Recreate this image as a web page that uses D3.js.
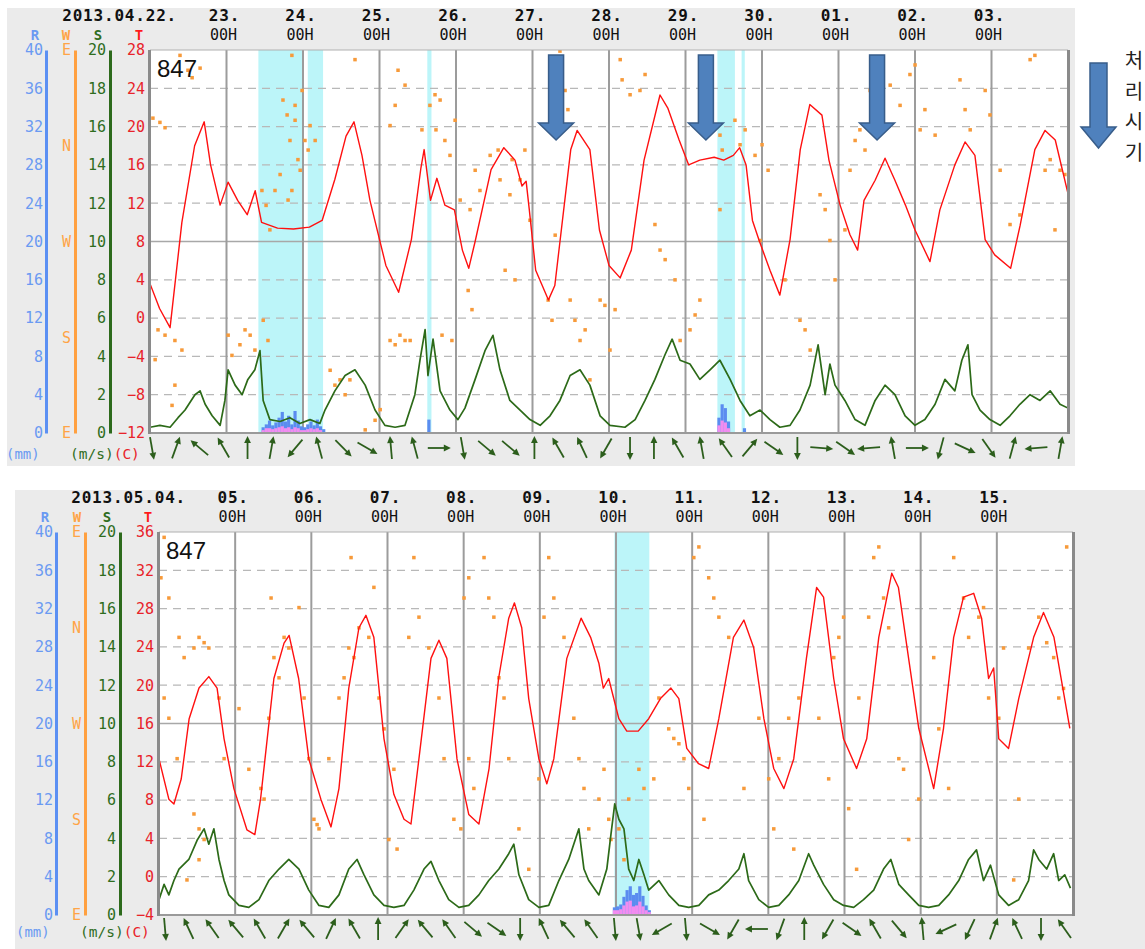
<!DOCTYPE html>
<html><head><meta charset="utf-8">
<script src="https://cdn.jsdelivr.net/npm/d3@7"></script>
<style>body{margin:0;background:#fff}svg{display:block}</style>
</head><body><svg id="c" width="1145" height="949"></svg>
<script>
// ---------------- data ----------------
const dayLabelsTop = ["2013.04.22.","23.","24.","25.","26.","27.","28.","29.","30.","01.","02.","03."];
const dayLabelsBottom = ["2013.05.04.","05.","06.","07.","08.","09.","10.","11.","12.","13.","14.","15."];
const hourLabel = "00H";
const axisLetters = ["R","W","S","T"];
const rainTicks = [0,4,8,12,16,20,24,28,32,36,40];
const windTicks = [0,2,4,6,8,10,12,14,16,18,20];
const dirLabels = ["E","N","W","S","E"];
const dirValues = [450,360,270,180,90];
const tempTicksTop = [-12,-8,-4,0,4,8,12,16,20,24,28];
const tempTicksBottom = [-4,0,4,8,12,16,20,24,28,32,36];
const stationId = "847";
const noteText = ["처","리","시","기"];
const markerHoursTop = [127.4,174.4,228.1];

// temperature [hour from panel start, °C]
const tempTop = [[0,3.6],[3,1],[6.3,-1],[10,10],[14,18],[17,20.5],[19,16],[22,11.8],[24.5,14.2],[27.5,12.3],[30.5,10.8],[33,13.3],[35,10],[40,9.4],[45,9.3],[50,9.5],[54,10.2],[58,14.5],[61.5,19],[64,20.5],[66.5,17],[69,12.3],[74,5.5],[78,2.7],[82,8.2],[85,15.7],[86,17.6],[88,12.3],[90,14.6],[92.5,11.8],[95.5,11.3],[98,7.1],[100,5.2],[102,8],[107,15.5],[111,17.8],[114.5,16.5],[116.7,13.8],[118,14.3],[119,11.3],[121,5],[125,1.9],[127,3.4],[132,17.6],[134,19.6],[138,17.6],[141,9.2],[144,5.5],[147.5,4.2],[151,7.1],[155,16.5],[160,23.3],[162.5,21.9],[166,18.6],[169,16],[172.5,16.5],[177,16.8],[180,16.5],[183,17],[185,17.8],[187,16],[189,10.2],[191,8.2],[194.5,5],[197.6,2.4],[200.8,8.2],[204,17.6],[207,22.3],[210.8,21.2],[213,16.5],[216.5,11.8],[219.6,8.7],[222,7.1],[224,12.3],[227.5,14.4],[230.6,16.7],[233.7,14.4],[237,11.8],[240,9.2],[244.7,5.9],[247.8,11.3],[252.5,16],[255.7,18.4],[258.8,17],[262,8.2],[265,6.6],[270,5.2],[273,9.7],[277.6,17.6],[280.8,19.6],[284,18.6],[288,13]];
const tempBottom = [[0,12.3],[3.1,8.1],[4.7,7.6],[7,10.2],[9.5,16.5],[12.6,19.7],[15.7,20.9],[18.3,19.7],[20.5,14.4],[23.6,9.2],[27.7,4.9],[30.2,4.4],[32,8.1],[36.2,20.7],[39.4,24.4],[41,25.2],[44,20.7],[47.2,12.3],[51,8.1],[54.2,5.2],[56.7,9.2],[59.8,19.7],[63,26],[65.2,27.3],[67.7,25],[70.9,14.4],[74,8.6],[77.2,6],[79.4,5.5],[81.9,12.3],[85.7,22.8],[88.2,24.7],[90.7,22.8],[93.9,12.3],[97.6,6.5],[100.8,5.5],[104,11.3],[107,20.7],[110.2,27],[112,28.6],[114.3,26],[116.5,18.6],[119.7,12.3],[122.2,9.7],[124.4,12.3],[128.5,22.8],[133,27],[136,25],[138.6,22.3],[140,19.7],[141.7,20.7],[144.9,16.5],[147.4,15.2],[151,15.2],[154.3,16.5],[158,18.6],[161.3,19.7],[163.8,18.6],[166.3,13.4],[170,11.8],[173.2,11.3],[176.4,16.5],[181,25],[184.3,26.8],[187.4,23.9],[190.6,16.5],[193.7,11.3],[196.9,9.2],[200,12.3],[204,22.8],[207.2,30.2],[209.4,29.2],[212.6,20.7],[215.7,14.4],[219.8,11.3],[223,14.4],[226.8,25],[230.9,31.7],[233,30.2],[236.2,22.8],[239.4,15.5],[244.1,9.2],[247.2,15.5],[250.4,25],[253.5,29.2],[256.7,29.6],[259.2,27],[261.4,20.7],[263,21.8],[264.6,14.4],[267.7,13.4],[270.9,18.6],[275.6,25],[278.7,27.6],[282,25],[287,15.5]];

// wind speed [hour, m/s]
const windTop = [[0,0.3],[3.1,0.4],[6.3,0.3],[8.8,0.8],[11,1.2],[14.1,2],[15.7,2.2],[17.3,1.5],[19.5,0.9],[22,0.4],[23.5,1.7],[24.5,3.3],[26.7,2.5],[28.9,2],[30.7,2.8],[32.9,3.3],[34.5,4.3],[35.5,1.7],[37.6,0.7],[40.8,0.6],[43.9,0.8],[47,0.5],[50.2,0.7],[53.3,0.5],[54.9,1.2],[58,2.2],[61.2,3],[64.3,3.3],[67.5,2.5],[70.6,1.2],[73.7,0.4],[76.9,0.3],[80,0.4],[83.1,2],[84.7,3.8],[86.3,5.4],[87.2,3],[88.8,4.9],[91,2.2],[94.1,1.2],[96.6,0.7],[98.8,1.3],[102,2.8],[105.1,4.3],[107.6,5.1],[109.8,3.3],[112.9,1.7],[116.1,1.2],[119.2,0.7],[122.4,0.4],[125.5,0.9],[128.6,1.7],[131.8,3],[134.9,3.3],[138,2.5],[141.2,0.9],[144.3,0.4],[149,0.3],[152.2,0.7],[155.3,1.7],[158.4,2.8],[161.6,4.1],[163.8,4.9],[166.3,3.8],[169.4,3.6],[172.5,2.8],[175.7,3.3],[178.8,3.8],[182,2.8],[185.1,1.7],[188.2,0.9],[191.4,1.2],[194.5,0.7],[197.6,0.3],[200.8,0.4],[203.9,1.2],[207.1,2.5],[209.6,4.6],[211.8,2],[213.3,3.6],[214.9,2.5],[218,1.7],[221.2,0.7],[224.3,0.4],[227.5,1.7],[230.6,2.5],[233.7,2],[236.9,0.9],[240,0.4],[243.1,0.7],[246.3,1.5],[249.4,2.8],[252.5,2.2],[254.7,3.8],[256.6,4.6],[257.9,2],[260.4,1.2],[263.5,0.7],[266.7,0.4],[269.8,0.9],[272.9,1.5],[276.1,2],[279.2,1.7],[282.4,2.2],[285.5,1.5],[288,1.3]];
const windBottom = [[0,0.8],[1.6,1.6],[3.1,1.05],[4.7,1.8],[6.3,2.4],[9.4,2.9],[12,3.9],[14.2,4.5],[15.7,3.7],[17.3,4.5],[18.9,2.9],[20.5,1.8],[22,1.05],[25.2,0.5],[28.3,0.4],[31.5,0.8],[34.6,1.8],[37.8,2.4],[40.9,2.9],[44.1,2.4],[47.2,1.3],[50.4,0.5],[53.5,0.4],[56.7,1.05],[59.8,2.4],[62.4,2.9],[64.6,2.1],[67.7,1.05],[70.9,0.5],[74,0.4],[77.2,0.5],[80.3,1.3],[83.5,2.4],[85.7,2.8],[88.2,1.8],[91.3,0.8],[94.5,0.4],[97.6,0.5],[100.8,1.05],[103.9,1.8],[107.1,2.4],[110.2,3.2],[111.8,3.7],[113.4,2.1],[116.5,0.8],[119.7,0.4],[122.8,0.5],[126,1.8],[129.1,2.9],[132.3,4.5],[133.9,2.4],[135.4,1.8],[138.6,1.05],[141.1,2.4],[142.4,4.2],[143.6,5.8],[144.9,5],[146.5,4.5],[148,2.4],[149.6,1.8],[151.2,2.9],[152.8,2.1],[154.3,1.3],[157.5,1.8],[160.6,1.05],[163.8,0.5],[166.9,0.4],[170.1,0.5],[173.2,1.05],[176.4,1.3],[179.5,1.8],[182.7,2.4],[184.3,3.2],[185.8,1.8],[189,0.8],[192.1,0.4],[195.3,0.5],[198.4,1.05],[201.6,1.8],[204.7,3.2],[206.3,2.6],[209.4,1.6],[212.6,0.8],[215.7,0.5],[218.9,0.4],[222,0.8],[225.2,1.3],[228.3,2.4],[230.6,2.9],[233.1,1.6],[236.2,1.05],[239.4,0.5],[242.5,0.4],[245.7,0.5],[248.8,1.05],[252,1.8],[255.1,2.9],[257.6,3.4],[259.8,1.8],[262,2.6],[264.6,1.05],[267.7,0.5],[270.9,0.8],[274,1.8],[275.6,3.4],[277.2,2.9],[279.7,2.4],[281.9,3.2],[283.5,1.8],[285.4,2.1],[287.2,1.4]];

// wind direction dots [hour, compass degrees]
const dirTop = [[0.9,26],[3.1,22],[4.7,17],[2.5,187],[4.7,182],[7.8,177],[10,168],[1.6,159],[7.8,135],[6.9,116],[9.4,85],[11.9,71],[13.2,64],[15.7,73],[25.7,163],[28.2,173],[29.8,187],[31.4,182],[32.9,168],[24.5,182],[35.5,196],[37,177],[41.7,43],[43,29],[40.8,333],[39.2,318],[43.9,5],[45.5,24],[46.4,347],[47.1,337],[48.6,5],[49.6,356],[44.5,318],[43.3,309],[45.5,38],[47.7,52],[50.2,19],[35.1,318],[36.4,304],[37.6,281],[44.5,85],[51.8,5],[56.5,149],[58,135],[59.6,140],[61.2,126],[62.7,140],[67.5,93],[70.6,102],[72.2,112],[64.3,81],[75.3,177],[76.9,173],[78.4,182],[80,177],[81.6,177],[76.9,38],[77.8,71],[75.3,19],[80,57],[85.3,15],[87.8,38],[89.4,48],[91,43],[89.7,15],[92.5,5],[94.1,351],[95.7,24],[97.3,309],[91.6,182],[94.7,177],[100.4,300],[102,337],[103.5,318],[106.7,351],[109.2,356],[109.8,328],[112.9,314],[113.6,347],[116.1,328],[117.6,356],[119.2,290],[99.8,224],[101,206],[114.5,234],[111.4,243],[128.6,89],[130.2,52],[131.1,34],[127.1,276],[124.9,215],[126.1,196],[131.8,215],[133.3,196],[134.9,177],[136.5,187],[138,140],[141.2,215],[142.7,210],[145.9,206],[144.3,168],[147.5,81],[148.1,62],[150.6,48],[153.7,52],[155.3,67],[158.4,286],[160,262],[161.6,253],[164.7,234],[169.4,187],[171,201],[172.5,215],[166.3,177],[175.7,81],[176.3,71],[178.8,10],[179.5,356],[183.5,24],[185.1,1],[186.7,15],[189.8,351],[192,1],[193.9,337],[178.8,300],[191.4,271],[199.2,234],[203.9,196],[205.5,187],[207.1,168],[210.2,314],[211.8,300],[213.3,271],[214.9,234],[218,281],[219.6,337],[221.2,5],[222.7,15],[224.3,356],[229,15],[225.9,52],[232.2,57],[235.3,38],[238.4,67],[240,76],[241.6,15],[243.1,34],[246.3,10],[254.1,62],[255.7,34],[257.3,15],[262,52],[263.5,29],[266.7,337],[269.8,286],[272.9,295],[276.1,81],[277.6,85],[280.8,337],[282.4,347],[285.5,337],[287,333],[283.9,281]];
const dirBottom = [[0.6,47],[1.6,85],[3.1,28],[6.3,351],[7.9,332],[11,341],[12.6,351],[14.2,346],[15.7,341],[1.6,294],[3.1,275],[5.7,237],[11,185],[12.6,171],[14.2,161],[8.8,123],[12.6,142],[18.9,294],[20.5,237],[25.2,284],[28.3,227],[32.1,209],[33.1,199],[34.6,275],[35.3,28],[36.2,332],[37.8,313],[39.4,351],[40.9,341],[44.1,19],[45.7,294],[47.2,237],[48.8,180],[49.8,175],[50.4,171],[53.5,237],[56.7,294],[58.3,313],[59.8,341],[60.5,66],[61.4,332],[63,0],[66.1,351],[67.7,38],[69.3,294],[70.9,265],[74,227],[72.4,161],[75,152],[78.7,351],[80.3,66],[81.9,10],[85,341],[88.2,294],[89.8,237],[92.9,180],[95.1,171],[97.6,237],[99.2,209],[96.1,28],[97.6,47],[102.4,66],[103.9,28],[105.5,10],[107.1,313],[108.7,294],[110.2,237],[113.4,171],[116.5,133],[119.7,218],[121.3,10],[122.8,66],[124.4,28],[127.6,351],[130.7,275],[132.3,237],[133.9,209],[135.4,171],[138.6,199],[140.2,227],[141.7,180],[142.4,161],[144.9,171],[146.5,142],[148,199],[151.2,227],[152.8,209],[155.9,218],[157.5,294],[160.6,265],[162.2,256],[163.8,251],[165.4,237],[166.9,209],[168.5,66],[170.1,76],[173.2,47],[174.8,28],[176.4,10],[171.7,180],[179.5,351],[184.3,209],[189,275],[192.1,218],[193.7,171],[195.3,237],[198.4,275],[201.6,294],[200,152],[207.9,275],[211,218],[212.6,332],[214.2,351],[215.7,10],[217.3,190],[219.8,133],[220.5,294],[223.6,10],[225.2,66],[226.8,76],[228.3,28],[229.9,0],[233.1,237],[234.6,227],[236.2,161],[239.4,199],[244.1,332],[245.7,265],[248.8,209],[250.4,66],[253.5,28],[255.1,351],[258.3,10],[259.8,19],[261.4,294],[264.6,275],[266.1,341],[269.3,123],[270.9,199],[274,341],[277.2,10],[279.7,346],[281.9,332],[283.5,294],[285,303],[286,76]];

// wind arrows: pointing angle (deg clockwise from up), one every ~7.5 h
const arrowsTop = [170,20,310,330,0,10,220,345,135,120,355,345,90,170,130,130,0,330,335,210,180,0,330,350,325,40,125,180,95,125,265,350,90,195,115,145,15,265,10];
const arrowsBottom = [175,335,325,320,330,30,320,25,330,0,35,320,325,130,125,180,335,320,325,175,170,240,175,120,210,270,200,0,210,125,330,140,355,245,205,20,335,180,325];

// rain [hour, mm]
const rainBlueTop = [[35,0.6],[36,0.9],[37,1.3],[38,0.8],[39,1.1],[40,1.6],[41,2.2],[42,1.2],[43,1.8],[44,0.9],[45,2.3],[46,1.3],[47,0.7],[48,0.6],[49,0.9],[50,1.2],[51,0.8],[52,1.4],[53,0.7],[54,0.4],[87,1.4],[178,1.6],[179,3.0],[180,2.6],[181,1.2],[186,0.5]];
const rainPinkTop = [[35,0.3],[36,0.5],[37,0.5],[38,0.4],[39,0.5],[40,0.6],[41,0.7],[42,0.5],[43,0.6],[44,0.4],[45,0.6],[46,0.5],[47,0.3],[48,0.3],[49,0.4],[50,0.5],[51,0.4],[52,0.5],[53,0.3],[178,0.8],[179,1.3],[180,1.1],[181,0.5]];
const rainBlueBottom = [[143,0.8],[144,0.9],[145,1.1],[146,1.9],[147,2.6],[148,3.0],[149,2.1],[150,2.3],[151,3.0],[152,2.0],[153,1.0],[154,0.5]];
const rainPinkBottom = [[143,0.5],[144,0.5],[145,0.6],[146,1.0],[147,1.4],[148,1.5],[149,0.9],[150,1.0],[151,1.4],[152,0.9],[153,0.5],[154,0.3]];
// rain periods [start hour, end hour]
const rainSpansTop = [[34,48.3],[49.5,54.3],[87,88.3],[178,183.5],[185.6,186.6]];
const rainSpansBottom = [[143.5,154.5]];

// ---------------- drawing ----------------
const svg = d3.select("#c");
svg.append("rect").attr("width",1145).attr("height",949).attr("fill","#fff");
const MONO = "'DejaVu Sans Mono', monospace";
const COL = {R:"#6a9af2", Rl:"#5b90f3", W:"#ffa446", Wl:"#ffa040", S:"#2f6d1e", Sl:"#2d6a1c", T:"#e8232a"};

function drawPanel(c, d) {
  const g = svg.append("g");
  g.append("rect").attr("x",c.gx).attr("y",c.gy).attr("width",c.gw).attr("height",c.gh).attr("fill","#ebebeb");
  const x = d3.scaleLinear().domain([0,288]).range([c.x0,c.x1]);
  const yT = d3.scaleLinear().domain(c.tDomain).range([c.y1,c.y0]);
  const yR = d3.scaleLinear().domain([0,40]).range([c.y1,c.y0]);
  const yS = d3.scaleLinear().domain([0,20]).range([c.y1,c.y0]);
  const yW = d3.scaleLinear().domain([90,450]).range([c.y1,c.y0]);
  const W = c.x1-c.x0, H = c.y1-c.y0;
  g.append("clipPath").attr("id","clip"+c.id).append("rect").attr("x",c.x0).attr("y",c.y0).attr("width",W).attr("height",H);
  g.append("rect").attr("x",c.x0).attr("y",c.y0).attr("width",W).attr("height",H).attr("fill","#fff");
  const p = g.append("g").attr("clip-path",`url(#clip${c.id})`);
  p.selectAll("rect.span").data(d.spans).join("rect").attr("class","span")
    .attr("x",s=>x(s[0])).attr("width",s=>x(s[1])-x(s[0])).attr("y",c.y0).attr("height",H).attr("fill","#bcf5f9");
  const mid = (c.tDomain[0]+c.tDomain[1])/2;
  p.selectAll("line.hg").data(d.tTicks.filter(t=>t>c.tDomain[0]&&t<c.tDomain[1])).join("line").attr("class","hg")
    .attr("x1",c.x0).attr("x2",c.x1).attr("y1",t=>yT(t)).attr("y2",t=>yT(t))
    .attr("stroke",t=>t===mid?"#a8a8a8":"#b8b8b8").attr("stroke-width",1.3)
    .attr("stroke-dasharray",t=>t===mid?null:"8,6");
  p.selectAll("line.vg").data(d3.range(24,288,24)).join("line").attr("class","vg")
    .attr("x1",h=>x(h)).attr("x2",h=>x(h)).attr("y1",c.y0).attr("y2",c.y1).attr("stroke","#9c9c9c").attr("stroke-width",2);
  p.selectAll("rect.rb").data(d.rainBlue).join("rect").attr("class","rb")
    .attr("x",e=>x(e[0])).attr("width",e=>x(e[0]+1)-x(e[0])).attr("y",e=>yR(e[1])).attr("height",e=>yR(0)-yR(e[1])).attr("fill","#5b8cf0");
  p.selectAll("rect.rp").data(d.rainPink).join("rect").attr("class","rp")
    .attr("x",e=>x(e[0])).attr("width",e=>x(e[0]+1)-x(e[0])).attr("y",e=>yR(e[1])).attr("height",e=>yR(0)-yR(e[1])).attr("fill","#f28cf0");
  p.selectAll("rect.dot").data(d.dirs).join("rect").attr("class","dot")
    .attr("x",e=>x(e[0])-1.7).attr("y",e=>yW(e[1]<90?e[1]+360:e[1])-1.7).attr("width",3.5).attr("height",3.5).attr("fill","#f79a3a");
  p.append("path").datum(d.wind).attr("d",d3.line().x(e=>x(e[0])).y(e=>yS(e[1])))
    .attr("fill","none").attr("stroke","#2c6a18").attr("stroke-width",1.7).attr("stroke-linejoin","round");
  p.append("path").datum(d.temp).attr("d",d3.line().x(e=>x(e[0])).y(e=>yT(e[1])))
    .attr("fill","none").attr("stroke","#ff1010").attr("stroke-width",1.4).attr("stroke-linejoin","round");
  g.append("line").attr("x1",c.x0).attr("x2",c.x1).attr("y1",c.y0).attr("y2",c.y0).attr("stroke","#b0b0b0").attr("stroke-width",1);
  g.append("line").attr("x1",c.x0-1).attr("x2",c.x1+1).attr("y1",c.y1).attr("y2",c.y1).attr("stroke","#9a9a9a").attr("stroke-width",2);
  g.append("line").attr("x1",c.x0-0.5).attr("x2",c.x0-0.5).attr("y1",c.y0).attr("y2",c.y1+1).attr("stroke","#8a8a8a").attr("stroke-width",3);
  g.append("line").attr("x1",c.x1+0.5).attr("x2",c.x1+0.5).attr("y1",c.y0).attr("y2",c.y1+1).attr("stroke","#8a8a8a").attr("stroke-width",3);
  g.append("text").attr("x",c.x0+7).attr("y",c.y0+27).text(stationId)
    .style("font-family","'Liberation Sans', Arial, sans-serif").style("font-size","24px").attr("fill","#111");
  function styleAxis(sel, lineCol, textCol, showDomain) {
    sel.select(".domain").attr("stroke",showDomain?lineCol:"none").attr("stroke-width",3);
    sel.selectAll("text").attr("fill",textCol).style("font-family",MONO).style("font-size","15px");
  }
  g.append("g").attr("transform",`translate(${c.rLine},0)`)
    .call(d3.axisLeft(yR).tickValues(rainTicks).tickSize(0).tickPadding(3))
    .call(s=>styleAxis(s,COL.Rl,COL.R,true));
  g.append("g").attr("transform",`translate(${c.wLine},0)`)
    .call(d3.axisLeft(yW).tickValues(dirValues).tickFormat((v,i)=>dirLabels[i]).tickSize(0).tickPadding(4))
    .call(s=>styleAxis(s,COL.Wl,COL.W,true));
  g.append("g").attr("transform",`translate(${c.sLine},0)`)
    .call(d3.axisLeft(yS).tickValues(windTicks).tickSize(0).tickPadding(4))
    .call(s=>styleAxis(s,COL.Sl,COL.S,true));
  g.append("g").attr("transform",`translate(${c.x0-2},0)`)
    .call(d3.axisLeft(yT).tickValues(d.tTicks).tickSize(0).tickPadding(3))
    .call(s=>styleAxis(s,"none",COL.T,false));
  const letterCol = [COL.R,COL.W,COL.S,"#ff1a1a"];
  axisLetters.forEach((L,i)=>g.append("text").attr("x",c.letterX[i]).attr("y",c.letterY).attr("text-anchor","middle").text(L)
    .attr("fill",letterCol[i]).style("font-family",MONO).style("font-weight","bold").style("font-size","14px"));
  g.append("text").attr("x",c.mmX).attr("y",c.unitY).text("(mm)").attr("fill",COL.R).style("font-family",MONO).style("font-size","14px");
  const u = g.append("text").attr("x",c.msX).attr("y",c.unitY).style("font-family",MONO).style("font-size","14.5px");
  u.append("tspan").text("(m/s)").attr("fill",COL.S);
  u.append("tspan").text("(C)").attr("fill",COL.T);
  d.days.forEach((lab,i)=>{
    const h = i*24;
    if (i===0) {
      g.append("text").attr("x",c.x0+27).attr("y",c.dateY).attr("text-anchor","end").text(lab)
        .style("font-family",MONO).style("font-weight","bold").style("font-size","16px").style("letter-spacing","0.8px").attr("fill","#111");
    } else {
      g.append("text").attr("x",x(h)-2).attr("y",c.dateY).attr("text-anchor","middle").text(lab)
        .style("font-family",MONO).style("font-weight","bold").style("font-size","16px").style("letter-spacing","0.8px").attr("fill","#111");
      g.append("text").attr("x",x(h)-3).attr("y",c.dateY+19).attr("text-anchor","middle").text(hourLabel)
        .style("font-family",MONO).style("font-size","15px").attr("fill","#111");
    }
  });
  d.arrows.forEach((a,i)=>{
    const h = c.arrowStart + i*c.arrowStep;
    const ag = g.append("g").attr("transform",`translate(${x(h)},${c.arrowY}) rotate(${a})`);
    ag.append("line").attr("x1",0).attr("y1",11).attr("x2",0).attr("y2",-8).attr("stroke","#2c5e1c").attr("stroke-width",1.8);
    ag.append("path").attr("d","M0,-12L-3.4,-5L3.4,-5Z").attr("fill","#2c5e1c");
  });
  return {x};
}

const topPanel = drawPanel({id:"t",gx:7,gy:8,gw:1068,gh:458,x0:150,x1:1068,y0:50,y1:433,tDomain:[-12,28],
  rLine:46,wLine:75,sLine:110,letterX:[35,66,98,139],letterY:40,mmX:6,msX:70,unitY:459,dateY:21,
  arrowY:448,arrowStart:0.6,arrowStep:7.5},
  {days:dayLabelsTop,tTicks:tempTicksTop,temp:tempTop,wind:windTop,dirs:dirTop,arrows:arrowsTop,
   rainBlue:rainBlueTop,rainPink:rainPinkTop,spans:rainSpansTop});
drawPanel({id:"b",gx:15,gy:490,gw:1130,gh:459,x0:159,x1:1073,y0:532,y1:915,tDomain:[-4,36],
  rLine:56,wLine:85,sLine:120,letterX:[45,77,107,148],letterY:522,mmX:16,msX:80,unitY:937,dateY:503,
  arrowY:929,arrowStart:1.9,arrowStep:7.46},
  {days:dayLabelsBottom,tTicks:tempTicksBottom,temp:tempBottom,wind:windBottom,dirs:dirBottom,arrows:arrowsBottom,
   rainBlue:rainBlueBottom,rainPink:rainPinkBottom,spans:rainSpansBottom});

function blockArrow(cx, yTop, yHead, yTip, sw, hw) {
  svg.append("path").attr("d",`M${cx-sw},${yTop}H${cx+sw}V${yHead}H${cx+hw}L${cx},${yTip}L${cx-hw},${yHead}H${cx-sw}Z`)
    .attr("fill","#4f81bd").attr("stroke","#385d8a").attr("stroke-width",1.5);
}
markerHoursTop.forEach(h=>blockArrow(topPanel.x(h),55,123,140,7.5,17.5));
blockArrow(1098.5,63,127,148,8.5,17.5);
noteText.forEach((t,i)=>svg.append("text").attr("x",1134).attr("y",68+i*30.5).attr("text-anchor","middle").text(t)
  .style("font-family","'Noto Sans CJK KR', sans-serif").style("font-size","20px").attr("fill","#222"));
</script></body></html>
